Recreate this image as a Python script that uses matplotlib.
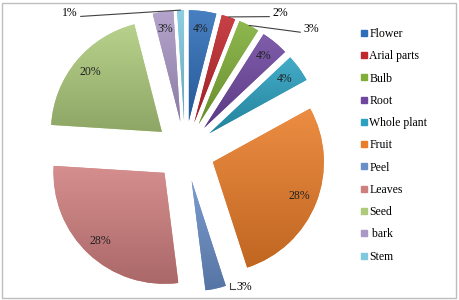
import numpy as np
import matplotlib.pyplot as plt
from matplotlib.colors import to_rgb
from matplotlib.lines import Line2D
from matplotlib.patches import Rectangle

plt.rcParams['font.family'] = ['Liberation Serif', 'DejaVu Serif']

# data
parts = ['Flower', 'Arial parts', 'Bulb', 'Root', 'Whole plant', 'Fruit',
         'Peel', 'Leaves', 'Seed', ' bark', 'Stem']
shares = [4, 2, 3, 4, 4, 28, 3, 28, 20, 3, 1]
colors = ['#2E6EB9', '#C0282D', '#80AE38', '#6F47A0', '#2BA0C0', '#EA7D29',
          '#6A8FC8', '#D07F7F', '#AECB7C', '#AA98C6', '#7FC8E0']
# where the outside labels sit and which side of the text the leader leaves from
outside = {'Stem': ((70, 287), (1, 0.2)), 'Arial parts': ((280, 287), (0, 0.2)),
           'Bulb': ((311, 271), (0, 0.2))}

W, H = 459, 300
fig = plt.figure(figsize=(W / 100, H / 100), dpi=100)
ax = fig.add_axes([0, 0, 1, 1])

# frame round the chart
fig.patches.append(Rectangle((2, 2), W - 5, H - 5, transform=None, fill=False,
                             edgecolor='#bdbdbd', lw=1))

R = 111
wedges, _ = ax.pie(shares, colors=colors, startangle=90, counterclock=False,
                   explode=[0.27 * R] * len(shares), radius=R, center=(185, 149),
                   wedgeprops=dict(linewidth=0), frame=True)

# excel-like gradient fill, lighter on top, darker at the bottom
for w, c in zip(wedges, colors):
    base = np.array(to_rgb(c))
    t = np.linspace(0, 1, 64)[:, None]
    top = base + (1 - base) * 0.12
    bot = base * 0.82
    img = (top * (1 - t) + bot * t)[:, None, :]
    x0, y0, x1, y1 = w.get_path().get_extents().extents
    im = ax.imshow(img, extent=[x0, x1, y0, y1], origin='upper', aspect='auto',
                   interpolation='bilinear', zorder=w.get_zorder() + 0.1)
    im.set_clip_path(w)

ax.set_xlim(0, W)
ax.set_ylim(0, H)
ax.set_aspect('equal')
ax.axis('off')

for w, name, v in zip(wedges, parts, shares):
    mid = np.deg2rad((w.theta1 + w.theta2) / 2)
    d = np.array([np.cos(mid), np.sin(mid)])
    cx, cy = w.center
    if name == 'Peel':
        # small L-shaped leader under the label
        a = np.deg2rad(w.theta2)
        px, py = cx + R * np.cos(a) + 4, cy + R * np.sin(a) + 3
        ax.plot([px, px, px + 5], [py, py - 6, py - 6], color='#404040', lw=0.8)
        ax.text(px + 7, py - 4, f'{v}%', fontsize=8.5, ha='left', va='center')
    elif name in outside:
        pos, rel = outside[name]
        tip = (cx + R * d[0], cy + R * d[1])
        ax.annotate(f'{v}%', xy=tip, xytext=pos, fontsize=8.5,
                    ha='center', va='center',
                    arrowprops=dict(arrowstyle='-', color='#404040', lw=0.8,
                                    shrinkA=0, shrinkB=0, relpos=rel))
    else:
        p = 0.84 * R
        ax.text(cx + p * d[0], cy + p * d[1], f'{v}%', fontsize=8.5,
                ha='center', va='center', color='#202020', zorder=5)

handles = [Line2D([], [], marker='s', linestyle='', markersize=4.5,
                  markerfacecolor=c, markeredgecolor=c) for c in colors]
ax.legend(handles, parts, loc='upper left', bbox_to_anchor=(360 / W, 1 - 28 / H),
          bbox_transform=fig.transFigure, frameon=False, fontsize=8.5,
          handlelength=0.6, handletextpad=0.2, labelspacing=0.87,
          borderpad=0, borderaxespad=0)

fig.savefig('out.png', dpi=100)
